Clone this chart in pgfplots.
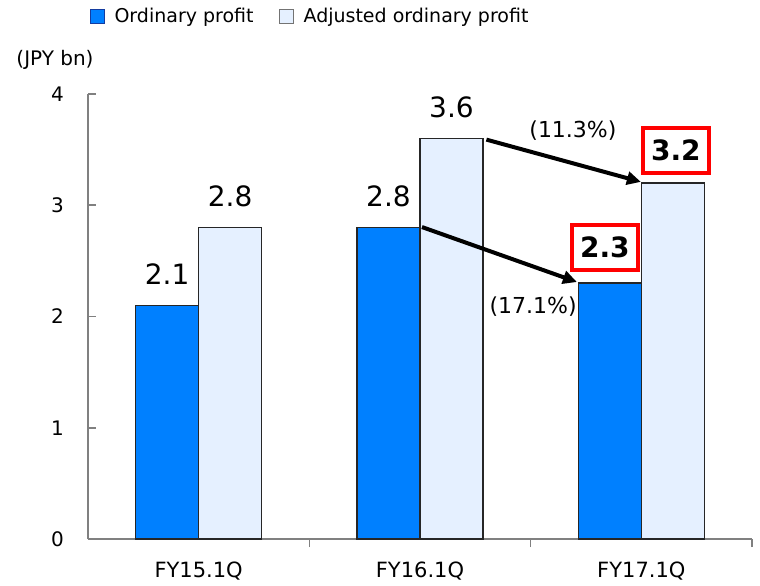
\documentclass[border=0pt]{standalone}
\usepackage{pgfplots}
\pgfplotsset{compat=1.18}
\usepackage{fontspec}
\setmainfont{DejaVu Sans}
\usetikzlibrary{arrows.meta}
\definecolor{barblue}{RGB}{0,128,255}
\definecolor{barlight}{RGB}{229,240,255}
\definecolor{axisgray}{RGB}{128,128,128}
\definecolor{boxred}{RGB}{255,0,0}
\definecolor{legblue}{RGB}{20,60,160}
\begin{document}
\begin{tikzpicture}
\path[use as bounding box] (0pt,0pt) rectangle (760pt,-586pt);
\begin{axis}[
  at={(88pt,-539pt)}, anchor=south west,
  width=664pt, height=445pt, scale only axis,
  xmin=-0.5, xmax=2.5, ymin=0, ymax=4,
  axis lines*=left,
  axis line style={axisgray, line width=1.6pt},
  ytick={0,1,2,3,4},
  xtick={0,1,2},
  xticklabels={FY15.1Q,FY16.1Q,FY17.1Q},
  minor xtick={0.5,1.5,2.5},
  tick align=inside,
  major tick length=8pt, minor tick length=8pt,
  major x tick style={draw=none},
  tick style={axisgray, line width=1.6pt},
  /pgf/number format/assume math mode=true,
  yticklabel style={font=\fontsize{20}{24}\selectfont, inner sep=0pt, xshift=-24pt},
  xticklabel style={font=\fontsize{21}{25}\selectfont, inner sep=0pt, yshift=-15pt},
  ybar=0pt, bar width=63pt,
  every axis plot/.append style={line width=1.3pt},
  nodes near coords,
  nodes near coords style={font=\fontsize{28}{32}\selectfont, anchor=south, inner sep=0pt, yshift=20pt, text=black},
  legend style={at={(axis description cs:0.002,1.175)}, anchor=west, draw=none, fill=none,
    legend columns=2, font=\fontsize{19}{23}\selectfont, inner sep=0pt,
    /tikz/every odd column/.append style={column sep=8pt},
    /tikz/every even column/.append style={column sep=23pt}},
  legend cell align=left,
  clip=false,
]
\addplot[fill=barblue, draw=black!85, bar shift=-31.5pt,
  legend image code/.code={\draw[fill=barblue, draw=legblue, line width=1pt] (0pt,-7pt) rectangle (14pt,7pt);}]
  coordinates {(0,2.1) (1,2.8)};
\addlegendentry{Ordinary profit}
\addplot[fill=barlight, draw=black!85, bar shift=31.5pt,
  legend image code/.code={\draw[fill=barlight, draw=black!55, line width=1pt] (0pt,-7pt) rectangle (14pt,7pt);}]
  coordinates {(0,2.8) (1,3.6)};
\addlegendentry{Adjusted ordinary profit}
\addplot[fill=barblue, draw=black!85, bar shift=-31.5pt, forget plot,
  nodes near coords style={font=\fontsize{28}{32}\selectfont\bfseries, draw=boxred, line width=4pt, fill=white,
    text height=20.4pt, text depth=0pt, inner xsep=8.5pt, inner ysep=12.5pt, yshift=-9pt, xshift=-5pt}]
  coordinates {(2,2.3)};
\addplot[fill=barlight, draw=black!85, bar shift=31.5pt, forget plot,
  nodes near coords style={font=\fontsize{28}{32}\selectfont\bfseries, draw=boxred, line width=4pt, fill=white,
    text height=20.4pt, text depth=0pt, inner xsep=8pt, inner ysep=12.5pt, yshift=-12pt, xshift=3pt}]
  coordinates {(2,3.2)};
\draw[line width=4pt, -{Triangle[length=14pt,width=13pt]}] (axis cs:1.30,3.59) -- (axis cs:1.998,3.21);
\draw[line width=4pt, -{Triangle[length=14pt,width=13pt]}] (axis cs:1.009,2.804) -- (axis cs:1.709,2.31);
\node[font=\fontsize{22}{26}\selectfont] at (axis cs:1.691,3.667) {(11.3\%)};
\node[font=\fontsize{22}{26}\selectfont] at (axis cs:1.511,2.085) {(17.1\%)};
\end{axis}
\node[font=\fontsize{20}{24}\selectfont] at (55pt,-60pt) {(JPY bn)};
\end{tikzpicture}
\end{document}
